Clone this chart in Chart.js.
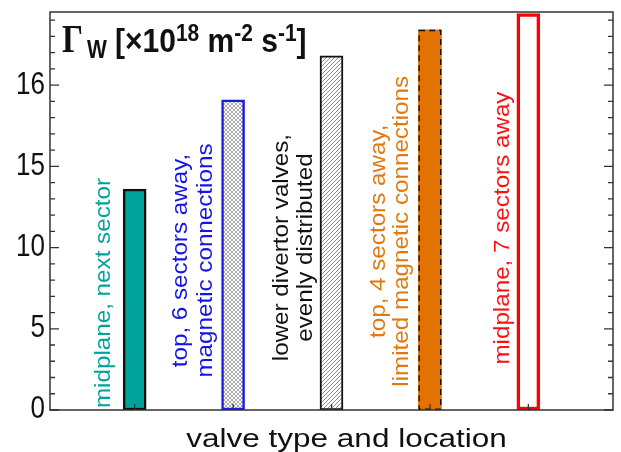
<!DOCTYPE html>
<html>
<head>
<meta charset="utf-8">
<script src="https://cdn.jsdelivr.net/npm/chart.js@4.4.1/dist/chart.umd.min.js"></script>
<style>
  html, body { margin: 0; padding: 0; background: #fff; }
  #wrap { width: 621px; height: 452px; position: relative; }
</style>
</head>
<body>
<div id="wrap"><canvas id="chart"></canvas></div>
<script>
// data
const positions = [1, 2, 3, 4, 5];
const fluxValues = [13.6, 19.1, 21.8, 23.4, 24.4];
const valveLabels = [
    ['midplane, next sector'],
    ['top, 6 sectors away,', 'magnetic connections'],
    ['lower divertor valves,', 'evenly distributed'],
    ['top, 4 sectors away,', 'limited magnetic connections'],
    ['midplane, 7 sectors away']
];
const yTickValues = [0, 5, 10, 15, 20];
const yTickLabels = ['0', '5', '10', '15', '16'];
const xTitle = 'valve type and location';

// label placement (centre of text block in y units, px offsets left of bar)
const labelCenters = [7.2, 9.2, 10.0, 11.0, 11.2];
const labelOffsets = [[-31], [-52, -27], [-50, -26], [-51, -28], [-26]];
const labelColors = ['#00a39a', '#1414e6', '#111111', '#e07a10', '#ff1010'];

function makePattern(draw) {
    const c = document.createElement('canvas');
    c.width = 4;
    c.height = 4;
    const g = c.getContext('2d');
    g.fillStyle = '#ffffff';
    g.fillRect(0, 0, 4, 4);
    draw(g);
    return document.getElementById('chart').getContext('2d').createPattern(c, 'repeat');
}

const crossHatch = makePattern(function (g) {
    g.fillStyle = '#a8a8a8';
    for (let i = 0; i < 4; i++) {
        g.fillRect(i, i, 1, 1);
        g.fillRect(i, 3 - i, 1, 1);
    }
});

const diagHatch = makePattern(function (g) {
    g.fillStyle = '#8c8c8c';
    for (let i = 0; i < 4; i++) {
        g.fillRect(3 - i, i, 1, 1);
    }
});

function stretchedText(ctx, text, x, y, font, color, sx, sy, rotate, align, baseline) {
    ctx.save();
    ctx.translate(x, y);
    ctx.scale(sx, sy);
    if (rotate) ctx.rotate(-Math.PI / 2);
    ctx.font = font;
    ctx.fillStyle = color;
    ctx.textAlign = align;
    ctx.textBaseline = baseline || 'middle';
    ctx.fillText(text, 0, 0);
    const w = ctx.measureText(text).width;
    ctx.restore();
    return w * sx;
}

const decorations = {
    id: 'decorations',
    afterDatasetsDraw(chart) {
        const ctx = chart.ctx;
        const area = chart.chartArea;
        const xs = chart.scales.x;
        const ys = chart.scales.y;
        const bars = chart.getDatasetMeta(0).data;

        // dashed outline on the orange bar
        const ob = bars[3];
        ctx.save();
        ctx.strokeStyle = '#111';
        ctx.lineWidth = 1.4;
        ctx.setLineDash([6, 4]);
        ctx.strokeRect(ob.x - ob.width / 2 + 0.7, ob.y + 0.7, ob.width - 1.4, ob.base - ob.y - 1.4);
        ctx.restore();

        // frame
        ctx.save();
        ctx.strokeStyle = '#333';
        ctx.lineWidth = 1.5;
        ctx.strokeRect(area.left, area.top, area.right - area.left, area.bottom - area.top);

        // inside ticks, left and right
        ctx.lineWidth = 1.3;
        ctx.beginPath();
        for (let v = 0; v <= ys.max; v++) {
            const y = ys.getPixelForValue(v);
            const len = v % 5 === 0 ? 9 : 5;
            ctx.moveTo(area.left, y);
            ctx.lineTo(area.left + len, y);
            ctx.moveTo(area.right, y);
            ctx.lineTo(area.right - len, y);
        }
        positions.forEach(function (p) {
            const x = xs.getPixelForValue(p);
            ctx.moveTo(x, area.bottom);
            ctx.lineTo(x, area.bottom - 6);
        });
        ctx.stroke();
        ctx.restore();

        // y tick labels
        yTickValues.forEach(function (v, i) {
            stretchedText(ctx, yTickLabels[i], area.left - 5, ys.getPixelForValue(v),
                '25px "Liberation Sans", Arial, sans-serif', '#111', 1.04, 1.22, false, 'right');
        });

        // x axis title
        stretchedText(ctx, xTitle, (area.left + area.right) / 2 + 15, 447,
            '25px "Liberation Sans", Arial, sans-serif', '#111', 1.26, 1, false, 'center', 'alphabetic');

        // rotated valve labels
        valveLabels.forEach(function (lines, i) {
            const bx = xs.getPixelForValue(positions[i]);
            const cy = ys.getPixelForValue(labelCenters[i]);
            lines.forEach(function (line, j) {
                stretchedText(ctx, line, bx + labelOffsets[i][j], cy,
                    '20px "Liberation Sans", Arial, sans-serif', labelColors[i], 1.12, 1.21, true, 'center');
            });
        });

        // title  Γ_W [×10^18 m^-2 s^-1]
        const base = area.top + 40;
        const bold = '"Liberation Sans", Arial, sans-serif';
        let x = area.left + 12;
        stretchedText(ctx, '\u0393', x, base, 'bold 33px "Liberation Serif", "Times New Roman", serif', '#111', 1, 1.22, false, 'left', 'alphabetic');
        stretchedText(ctx, 'W', x + 25, base + 6, 'bold 21px ' + bold, '#111', 1, 1.2, false, 'left', 'alphabetic');
        x = x + 53;
        const parts = [
            ['[\u00d710', 30, 0],
            ['18', 21, -11],
            [' m', 30, 0],
            ['-2', 21, -11],
            [' s', 30, 0],
            ['-1', 21, -11],
            [']', 30, 0]
        ];
        parts.forEach(function (p) {
            x += stretchedText(ctx, p[0], x, base + p[2], 'bold ' + p[1] + 'px ' + bold, '#111', 1, 1.12, false, 'left', 'alphabetic');
        });
    }
};

const chart = new Chart(document.getElementById('chart'), {
    type: 'bar',
    data: {
        datasets: [{
            data: positions.map(function (p, i) { return { x: p, y: fluxValues[i] }; }),
            backgroundColor: ['#00a39a', crossHatch, diagHatch, '#e37300', '#ffffff'],
            borderColor: ['#111111', '#1a1ae6', '#111111', 'rgba(0,0,0,0)', '#ff0000'],
            borderWidth: [2.5, 2.5, 2, 0, 3.5],
            borderSkipped: false,
            barThickness: 23
        }]
    },
    options: {
        responsive: true,
        maintainAspectRatio: false,
        animation: false,
        layout: {
            padding: { left: 50, right: 8, top: 12, bottom: 42 }
        },
        plugins: {
            legend: { display: false },
            tooltip: { enabled: false }
        },
        scales: {
            x: {
                type: 'linear',
                display: false,
                offset: false,
                min: 0.14,
                max: 5.86
            },
            y: {
                display: false,
                min: 0,
                max: 24.5
            }
        }
    },
    plugins: [decorations]
});
</script>
</body>
</html>
